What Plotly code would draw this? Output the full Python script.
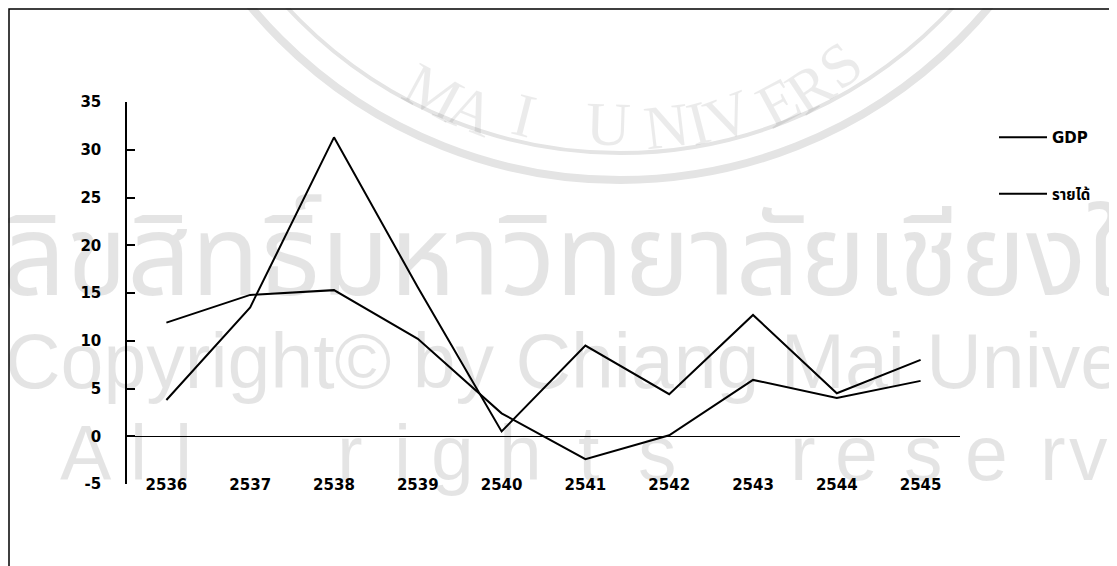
import math
import plotly.graph_objects as go

# data
years = ["2536", "2537", "2538", "2539", "2540", "2541", "2542", "2543", "2544", "2545"]
gdp = [3.8, 13.5, 31.3, 15.6, 0.5, 9.5, 4.4, 12.7, 4.5, 8.0]
income = [11.9, 14.8, 15.3, 10.2, 2.4, -2.4, 0.1, 5.9, 4.0, 5.8]
series_names = ["GDP", "รายได้"]
y_ticks = [35, 30, 25, 20, 15, 10, 5, 0, -5]

W, H = 1117, 566
OFF = 8  # the html body adds an 8px margin around the figure
L, R, T, B = 119, 165, 94, 90
PW, PH = W - L - R, H - T - B


def px(x):
    # screen pixel -> paper x
    return (x - OFF - L) / PW


def py(y):
    # screen pixel -> paper y
    return (H - B - (y - OFF)) / PH


FONT = "DejaVu Sans, Noto Sans Thai, Loma, sans-serif"
WM = "rgba(0,0,0,0.105)"

fig = go.Figure()
for name, vals, grp in [(series_names[0], gdp, "a"), (series_names[1], income, "b")]:
    fig.add_trace(
        go.Scatter(
            x=years,
            y=vals,
            mode="lines",
            name=name,
            legendgroup=grp,
            line=dict(color="black", width=2),
        )
    )

# watermark (seal rings + copyright text)
shapes = []
for r, w in [(480, 8), (453, 4)]:
    shapes.append(
        dict(
            type="circle", xref="paper", yref="paper", layer="below",
            x0=px(620 - r), x1=px(620 + r), y0=py(-300 + r), y1=py(-300 - r),
            line=dict(color="#e4e4e4", width=w),
        )
    )
# frame of the scanned page
shapes.append(
    dict(
        type="rect", xref="paper", yref="paper",
        x0=px(9), x1=px(1140), y0=py(620), y1=py(9),
        line=dict(color="black", width=1.5),
    )
)

annotations = []
seal_letters = [("M", 433, 46), ("A", 472, 67), ("I", 524, 77), ("U", 608, 87),
                ("N", 666, 87), ("I", 720, 85), ("V", 764, 74), ("E", 814, 60),
                ("R", 849, 45), ("S", 877, 25)]
for ch, x, y in seal_letters:
    ang = math.degrees(math.atan2(620 - x, y + 300))
    annotations.append(
        dict(text=ch, x=px(x), y=py(y), xref="paper", yref="paper", showarrow=False,
             textangle=ang,
             font=dict(family="Liberation Serif", size=62, color="rgba(0,0,0,0.08)"))
    )
annotations.append(
    dict(text="ลิขสิทธิ์มหาวิทยาลัยเชียงใหม่", x=px(0), y=py(260), xref="paper", yref="paper",
         xanchor="left", yanchor="middle", showarrow=False,
         font=dict(family="Noto Sans Thai, Loma, Garuda, sans-serif", size=112, color=WM))
)
annotations.append(
    dict(text="Copyright© by Chiang Mai University", x=px(3), y=py(361), xref="paper",
         yref="paper", xanchor="left", yanchor="middle", showarrow=False,
         font=dict(family="Liberation Sans", size=77, color=WM))
)
rights = [("A", 58), ("l", 128), ("l", 173), ("r", 335), ("i", 392), ("g", 452), ("h", 520),
          ("t", 588), ("s", 657), ("r", 818), ("e", 880), ("s", 945), ("e", 1010),
          ("r", 1068), ("v", 1110)]
for ch, x in rights:
    annotations.append(
        dict(text=ch, x=px(x), y=py(453), xref="paper", yref="paper", showarrow=False,
             yanchor="middle", font=dict(family="Liberation Sans", size=77, color=WM))
    )

fig.update_layout(
    width=W,
    height=H,
    margin=dict(l=L, r=R, t=T, b=B, autoexpand=False),
    paper_bgcolor="white",
    plot_bgcolor="rgba(0,0,0,0)",
    font=dict(family=FONT, size=15, color="black"),
    showlegend=True,
    legend=dict(
        x=px(994), y=py(121), xanchor="left", yanchor="top",
        traceorder="grouped", tracegroupgap=34, itemwidth=48,
        bgcolor="rgba(0,0,0,0)", borderwidth=0,
        font=dict(family=FONT, size=15, color="black", weight="bold"),
    ),
    xaxis=dict(
        type="category",
        range=[-0.47, 9.47],
        showline=False,
        showgrid=False,
        zeroline=False,
        ticks="",
        anchor="free",
        position=py(474),
        automargin=False,
        tickfont=dict(family=FONT, size=15, color="black", weight="bold"),
    ),
    yaxis=dict(
        range=[-5, 35],
        tickvals=y_ticks,
        ticktext=[str(v) for v in y_ticks],
        ticks="inside",
        ticklen=8,
        tickwidth=1.5,
        tickcolor="black",
        showline=True,
        linecolor="black",
        linewidth=1.5,
        showgrid=False,
        zeroline=True,
        zerolinecolor="black",
        zerolinewidth=1,
        ticklabelstandoff=21,
        automargin=False,
        tickfont=dict(family=FONT, size=15, color="black", weight="bold"),
    ),
    shapes=shapes,
    annotations=annotations,
)

fig.write_html("out.html")
